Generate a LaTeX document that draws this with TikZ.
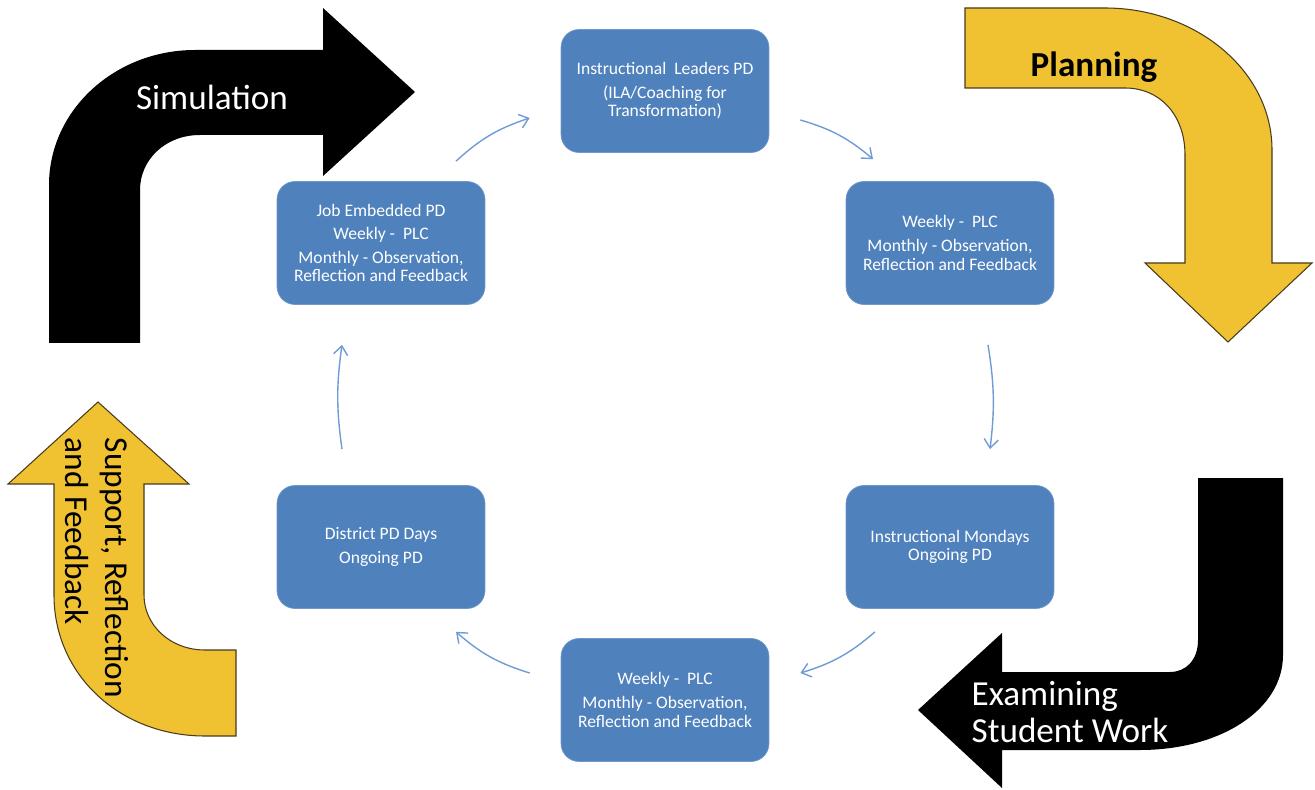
\documentclass[tikz,border=0pt]{standalone}
\usepackage{fontspec}
\setmainfont{Carlito}
\usepackage{tikz}
\usetikzlibrary{arrows.meta, calc}
\definecolor{boxblue}{RGB}{79,129,189}
\definecolor{boxedge}{RGB}{112,152,204}
\definecolor{flowblue}{RGB}{112,156,214}
\definecolor{gold}{RGB}{240,194,50}
\definecolor{goldedge}{RGB}{70,60,30}
\tikzset{
  pdbox/.style={rectangle, draw=boxedge, fill=boxblue, text=white,
    align=center, minimum width=4.16cm, minimum height=2.46cm,
    rounded corners=0.36cm, line width=0.4pt,
    font=\fontsize{10}{10.5}\selectfont},
  flow/.style={-{Straight Barb[length=5pt,width=8pt]}, line width=0.8pt, color=flowblue},
  bigblack/.style={fill=black},
  biggold/.style={fill=gold, draw=goldedge, line width=0.6pt},
  biglabel/.style={font=\fontsize{20}{21}\selectfont}
}

\begin{document}
\begin{tikzpicture}[x=0.02cm, y=-0.02cm]
  \useasboundingbox (0,0) rectangle (1315,790);
  % Big curved arrows
  \fill[bigblack] (49,343) -- (49,185) .. controls (49,110) and (115,50) .. (195,50)
    -- (323,50) -- (323,8) -- (415,92) -- (323,176) -- (323,135) -- (200,135)
    .. controls (165,135) and (140,160) .. (140,190) -- (140,343) -- cycle;
  \draw[biggold] (965,8) -- (1105,8) .. controls (1195,8) and (1272,70) .. (1272,150)
    -- (1272,263) -- (1312,263) -- (1228,342) -- (1145,263) -- (1185,263) -- (1185,155)
    .. controls (1185,115) and (1160,88) .. (1125,88) -- (965,88) -- cycle;
  \fill[bigblack] (1198,478) -- (1283,478) -- (1283,655) .. controls (1283,710) and (1220,750) .. (1140,750)
    -- (1002,750) -- (1002,788) -- (918,710) -- (1002,633) -- (1002,672) -- (1170,672)
    .. controls (1186,672) and (1198,660) .. (1198,640) -- cycle;
  \draw[biggold] (236,650) -- (205,650) .. controls (170,650) and (144,625) .. (144,595)
    -- (144,484) -- (189,484) -- (98,402) -- (8,484) -- (54,484) -- (54,595)
    .. controls (54,675) and (120,736) .. (205,736) -- (236,736) -- cycle;
  % Arrow labels
  \node[biglabel, text=white] (simlbl) at (212,97) {Simulation};
  \node[biglabel, font=\fontsize{20}{21}\bfseries] (planlbl) at (1094,67) {Planning};
  \node[biglabel, text=white, align=left] (examlbl) at (1070,712) {Examining\\Student Work};
  \node[font=\fontsize{19}{23}\selectfont, align=left, rotate=-90] (suplbl) at (97,568)
    {Support, Reflection\\and Feedback};
  % PD boxes
  \node[pdbox] (top) at (665,91) {Instructional~ Leaders PD\\[3pt](ILA/Coaching for\\Transformation)};
  \node[pdbox] (job) at (381,243) {Job Embedded PD\\[3pt]Weekly -~ PLC\\[3pt]Monthly - Observation,\\Reflection and Feedback};
  \node[pdbox] (plc) at (950,243) {Weekly -~ PLC\\[3pt]Monthly - Observation,\\Reflection and Feedback};
  \node[pdbox] (mon) at (950,547) {Instructional Mondays\\Ongoing PD};
  \node[pdbox] (obs) at (665,700) {Weekly -~ PLC\\[3pt]Monthly - Observation,\\Reflection and Feedback};
  \node[pdbox] (dist) at (381,547) {District PD Days\\[3pt]Ongoing PD};
  % Cycle connectors
  \coordinate (a1s) at ($(job.north)+(75,-20)$);
  \coordinate (a1e) at ($(top.west)+(-31,27)$);
  \coordinate (a2s) at ($(top.east)+(31,29)$);
  \coordinate (a2e) at ($(plc.north)+(-77,-22)$);
  \coordinate (a3s) at ($(plc.south)+(38,40)$);
  \coordinate (a3e) at ($(mon.north)+(40,-36)$);
  \coordinate (a4s) at ($(mon.south)+(-75,23)$);
  \coordinate (a4e) at ($(obs.east)+(31,-27)$);
  \coordinate (a5s) at ($(obs.west)+(-31,-27)$);
  \coordinate (a5e) at ($(dist.south)+(75,23)$);
  \coordinate (a6s) at ($(dist.north)+(-39,-36)$);
  \coordinate (a6e) at ($(job.south)+(-39,40)$);
  \draw[flow] (a1s) to[bend left=12] (a1e);
  \draw[flow] (a2s) to[bend left=12] (a2e);
  \draw[flow] (a3s) to[bend left=8] (a3e);
  \draw[flow] (a4s) to[bend left=12] (a4e);
  \draw[flow] (a5s) to[bend left=12] (a5e);
  \draw[flow] (a6s) to[bend left=8] (a6e);
\end{tikzpicture}
\end{document}
